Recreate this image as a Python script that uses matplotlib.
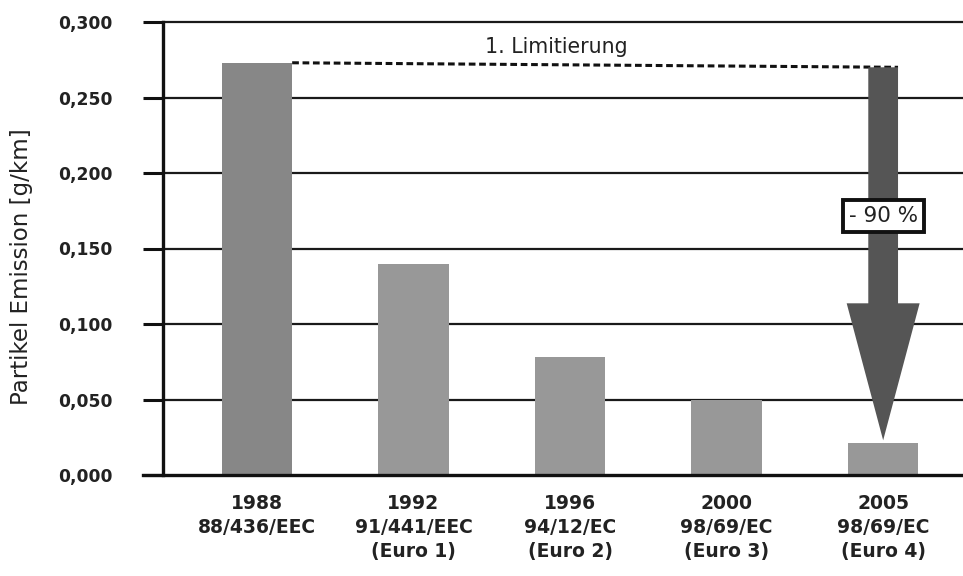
import matplotlib
matplotlib.use("Agg")
import matplotlib.pyplot as plt
from matplotlib.patches import FancyArrow

# Particulate emission limits for diesel passenger cars
years = ["1988", "1992", "1996", "2000", "2005"]
directives = ["88/436/EEC", "91/441/EEC", "94/12/EC", "98/69/EC", "98/69/EC"]
stages = ["", "(Euro 1)", "(Euro 2)", "(Euro 3)", "(Euro 4)"]
values = [0.273, 0.140, 0.078, 0.050, 0.021]
yticks = [0.0, 0.05, 0.10, 0.15, 0.20, 0.25, 0.30]
reduction_label = "- 90 %"
first_limit_label = "1. Limitierung"

fig = plt.figure(figsize=(9.63, 5.76), dpi=100)
ax = fig.add_axes([163 / 963, 101 / 576, 800 / 963, 453 / 576])

x = list(range(len(values)))
bar_colors = ["#878787"] + ["#989898"] * (len(values) - 1)
bar_w = 0.45
ax.bar(x, values, width=bar_w, color=bar_colors, zorder=3)

ax.set_xlim(-0.6, 4.51)
ax.set_ylim(0, 0.30)

# horizontal grid lines
ax.set_yticks(yticks)
ax.set_yticklabels([f"{t:.3f}".replace(".", ",") for t in yticks],
                   fontsize=12.3, fontweight="bold", color="#222222")
for t in yticks[1:]:
    ax.axhline(t, color="#1a1a1a", lw=1.6, zorder=1, clip_on=False)

ax.tick_params(axis="y", direction="out", length=14.5, width=2.2,
               pad=22, color="#111111")
ax.tick_params(axis="x", length=0, pad=14)

labels = []
for y, d, s in zip(years, directives, stages):
    labels.append("\n".join([y, d] + ([s] if s else [])))
ax.set_xticks(x)
ax.set_xticklabels(labels, fontsize=13.5, fontweight="bold",
                   color="#222222", linespacing=1.32, va="top")

for side in ["top", "right"]:
    ax.spines[side].set_visible(False)
ax.spines["left"].set_linewidth(2.4)
ax.spines["bottom"].set_linewidth(2.4)
ax.spines["left"].set_color("#111111")
ax.spines["bottom"].set_color("#111111")
ax.spines["bottom"].set_bounds(-0.6 - 20 / 156.6, 4.51)
ax.spines["bottom"].set_zorder(5)

ax.set_ylabel("Partikel Emission [g/km]", fontsize=16.5, color="#222222")
ax.yaxis.set_label_coords(-0.1625, 0.461)

# reference line at the first limit
arrow_x = x[-1]
shaft_w = 0.19
ax.plot([x[0] + bar_w / 2, arrow_x + shaft_w / 2], [values[0], values[0] - 0.003],
        color="#111111", lw=2.2, ls=(0, (2.2, 1.2)), zorder=4)
ax.text(1.91, 0.2835, first_limit_label, fontsize=14.8,
        ha="center", va="center", color="#222222")

# reduction arrow
top = values[0] - 0.003
tip = values[-1] + 0.002
arrow = FancyArrow(arrow_x, top, 0, -(top - tip), width=shaft_w,
                   head_width=0.466, head_length=0.0907,
                   length_includes_head=True, color="#555555", lw=0, zorder=4)
ax.add_patch(arrow)
ax.text(arrow_x, 0.1715, reduction_label, fontsize=15.5, ha="center",
        va="center", color="#222222", zorder=6,
        bbox=dict(boxstyle="square,pad=0.28", fc="white", ec="#111111", lw=2.8))

fig.savefig("out.png", dpi=100)
